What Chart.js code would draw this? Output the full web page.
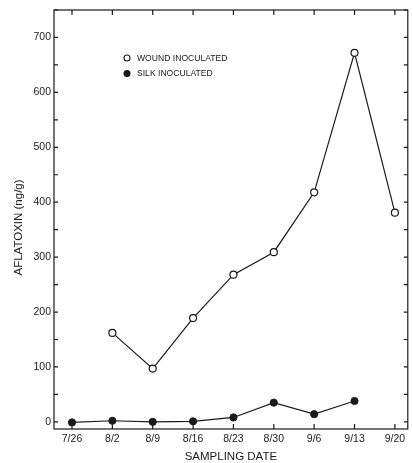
<!DOCTYPE html>
<html><head><meta charset="utf-8">
<script src="https://cdn.jsdelivr.net/npm/chart.js@4"></script>
<style>html,body{margin:0;padding:0;background:#fff;overflow:hidden}canvas{display:block}</style>
</head><body><canvas id="c" width="413" height="463" style="width:413px;height:463px"></canvas>
<script>
const categories = ['7/26','8/2','8/9','8/16','8/23','8/30','9/6','9/13','9/20'];
const woundValues = [null,162,97,189,268,309,418,672,381];
const silkValues = [-1,2,0,1,8,35,14,38,null];
const yTickValues = [0,100,200,300,400,500,600,700];
const yMinorStep = 50;
const seriesNames = ['WOUND INOCULATED','SILK INOCULATED'];

const FONT = "'Liberation Sans', Arial, sans-serif";
const INK = '#1a1a1a';

function toPoints(vals){
  return vals.map((v,i)=> v===null ? null : {x:i, y:v}).filter(p=>p);
}

const frameTicks = {
  id:'frameTicks',
  beforeDatasetsDraw(chart){
    const {ctx, chartArea:a, scales:{x,y}} = chart;
    ctx.save();
    ctx.strokeStyle = INK;
    ctx.lineWidth = 1.2;
    ctx.strokeRect(a.left, a.top, a.right-a.left, a.bottom-a.top);
    ctx.beginPath();
    const tl = 5;
    categories.forEach((c,i)=>{
      const px = x.getPixelForValue(i);
      ctx.moveTo(px, a.bottom); ctx.lineTo(px, a.bottom-tl);
      ctx.moveTo(px, a.top); ctx.lineTo(px, a.top+tl);
    });
    for(let v=0; v<=y.max; v+=yMinorStep){
      const py = y.getPixelForValue(v);
      ctx.moveTo(a.left, py); ctx.lineTo(a.left+4, py);
      ctx.moveTo(a.right, py); ctx.lineTo(a.right-4, py);
    }
    ctx.stroke();
    ctx.restore();
  },
  afterDraw(chart){
    const {ctx, chartArea:a} = chart;
    ctx.save();
    ctx.font = '8.6px ' + FONT;
    ctx.textBaseline = 'middle';
    chart.data.datasets.forEach((ds,i)=>{
      const cx = a.left + 73, cy = a.top + 48 + i*15.5;
      ctx.beginPath();
      ctx.arc(cx, cy, 3, 0, Math.PI*2);
      ctx.fillStyle = ds.pointBackgroundColor;
      ctx.fill();
      ctx.lineWidth = 1.1;
      ctx.strokeStyle = INK;
      ctx.stroke();
      ctx.fillStyle = INK;
      ctx.fillText(ds.label, cx + 10, cy + 0.5);
    });
    ctx.restore();
  }
};

new Chart(document.getElementById('c'), {
  type:'line',
  data:{
    datasets:[
      {label:seriesNames[0], data:toPoints(woundValues), borderColor:INK, borderWidth:1.2,
       pointBackgroundColor:'#ffffff', pointBorderColor:INK, pointBorderWidth:1.2, pointRadius:3.5, tension:0},
      {label:seriesNames[1], data:toPoints(silkValues), borderColor:INK, borderWidth:1.2,
       pointBackgroundColor:INK, pointBorderColor:INK, pointBorderWidth:1, pointRadius:3.6, tension:0}
    ]
  },
  options:{
    responsive:false, animation:false, devicePixelRatio:1,
    layout:{padding:{top:10,right:1,left:0,bottom:0}},
    plugins:{legend:{display:false}, tooltip:{enabled:false}},
    scales:{
      x:{
        type:'linear', min:-0.446, max:8.32,
        afterBuildTicks:s=>{ s.ticks = categories.map((c,i)=>({value:i})); },
        afterFit:s=>{ s.height = 34; s.paddingLeft = 0; s.paddingRight = 0; },
        grid:{display:false, drawTicks:false}, border:{display:false},
        ticks:{callback:v=>categories[v] ?? '', autoSkip:false, maxRotation:0, color:INK,
               font:{family:FONT, size:10.5}, padding:4},
        title:{display:true, text:'SAMPLING DATE', color:INK, font:{family:FONT, size:11.5, lineHeight:1}, padding:{top:0,bottom:0}}
      },
      y:{
        type:'linear', min:-13, max:750,
        afterBuildTicks:s=>{ s.ticks = yTickValues.map(v=>({value:v})); },
        afterFit:s=>{ s.width = 54; s.paddingTop = 0; s.paddingBottom = 0; },
        grid:{display:false, drawTicks:false}, border:{display:false},
        ticks:{color:INK, font:{family:FONT, size:10.5}, padding:3},
        title:{display:true, text:'AFLATOXIN (ng/g)     ', color:INK, font:{family:FONT, size:11.5, lineHeight:1}, padding:{top:13.5,bottom:0}}
      }
    }
  },
  plugins:[frameTicks]
});
</script></body></html>
